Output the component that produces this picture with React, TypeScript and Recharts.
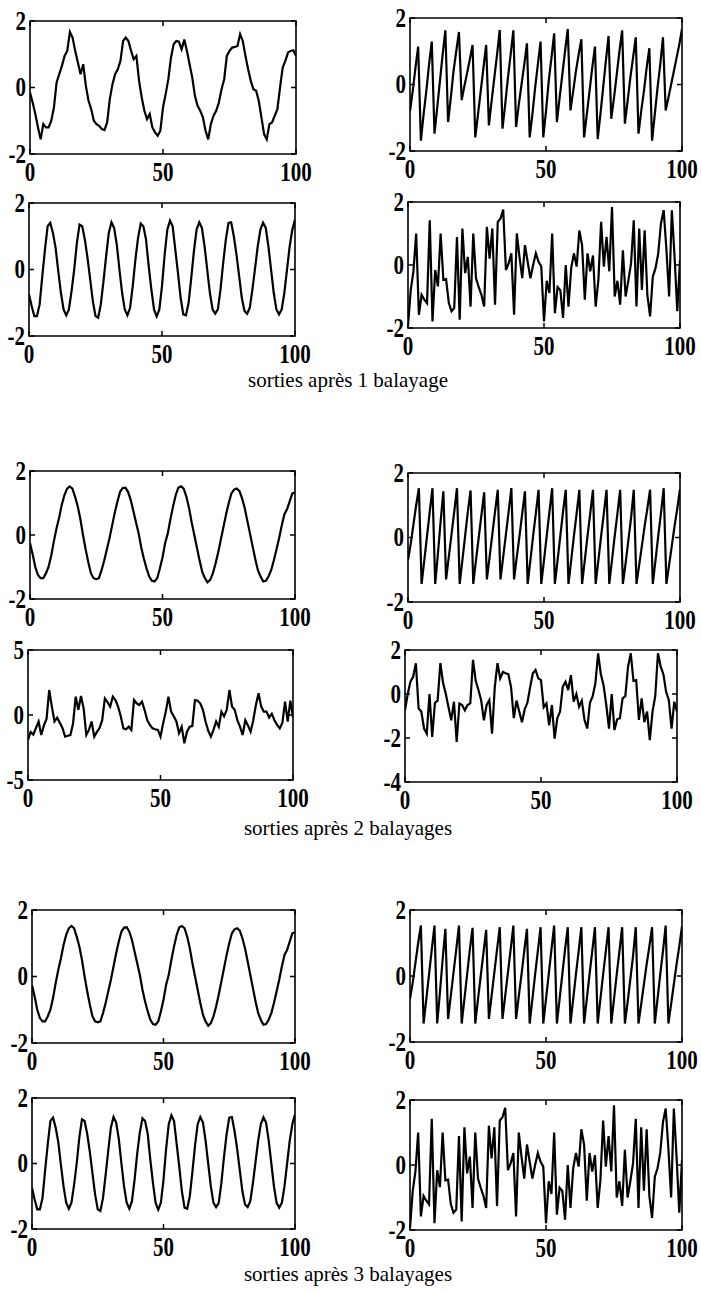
import { LineChart, Line, XAxis, YAxis, ReferenceArea } from "recharts";

// abscissa ticks shared by every panel
const xTicks = [0, 50, 100];
const yTicksUnit = [-2, 0, 2];
const yTicksFive = [-5, 0, 5];
const yTicksFour = [-4, -2, 0, 2];

const captions = [
  "sorties après 1 balayage",
  "sorties après 2 balayages",
  "sorties après 3 balayages",
];

// sweep 1
const sweep1TopLeft = [
  -0.15, -0.45, -0.8, -1.2, -1.56, -1.1, -1.2, -1.2, -1.0, -0.6,
  0.15, 0.4, 0.65, 0.95, 1.1, 1.67, 1.5, 1.1, 0.75, 0.4,
  0.7, 0.05, -0.4, -0.65, -1.0, -1.1, -1.15, -1.25, -1.28, -1.05,
  -0.35, 0.1, 0.4, 0.55, 0.8, 1.4, 1.5, 1.4, 1.1, 0.85,
  0.95, 0.2, -0.3, -0.7, -0.95, -0.8, -1.2, -1.35, -1.45, -1.3,
  -0.6, -0.2, 0.25, 0.9, 1.3, 1.4, 1.38, 1.15, 1.44, 1.1,
  0.7, 0.3, -0.25, -0.55, -0.7, -0.9, -1.3, -1.56, -1.1, -0.85,
  -0.7, -0.45, -0.05, 0.25, 0.95, 1.1, 1.2, 1.22, 1.25, 1.6,
  1.4, 0.95, 0.55, 0.2, -0.05, -0.1, -0.4, -0.9, -1.4, -1.56,
  -1.1, -1.05, -0.85, -0.65, 0.0, 0.6, 0.8, 1.05, 1.1, 1.12,
  0.95,
];
const sweep1TopRight = [
  -0.8, -0.2, 0.5, 1.14, -1.69, -0.9, -0.2, 0.6, 1.29, -1.48,
  -0.7, 0.1, 0.9, 1.63, -1.13, -0.4, 0.4, 1.0, 1.58, -0.47,
  -0.05, 0.35, 0.75, 1.19, -1.59, -0.9, -0.2, 0.5, 1.19, -1.23,
  -0.5, 0.2, 0.9, 1.64, -1.33, -0.6, 0.2, 0.9, 1.63, -1.28,
  -0.6, 0.0, 0.6, 1.24, -1.59, -0.9, -0.1, 0.6, 1.29, -1.59,
  -0.8, 0.1, 0.8, 1.54, -1.13, -0.4, 0.3, 1.0, 1.67, -0.78,
  -0.2, 0.4, 0.9, 1.36, -1.59, -0.9, -0.2, 0.5, 1.14, -1.64,
  -0.9, -0.1, 0.7, 1.46, -1.03, -0.4, 0.3, 1.0, 1.63, -1.18,
  -0.5, 0.2, 0.8, 1.42, -1.48, -0.8, -0.2, 0.5, 1.09, -1.69,
  -0.9, -0.1, 0.6, 1.42, -0.78, -0.4, 0.0, 0.4, 0.8, 1.2,
  1.67,
];
const sweep1BottomLeft = [
  -0.75, -1.1, -1.4, -1.4, -1.05, -0.2, 0.6, 1.3, 1.4, 1.1,
  0.65, -0.05, -0.7, -1.2, -1.38, -1.2, -0.65, 0.0, 0.8, 1.35,
  1.3, 0.9, 0.35, -0.3, -0.95, -1.4, -1.45, -1.05, -0.35, 0.4,
  1.1, 1.42, 1.25, 0.75, 0.0, -0.7, -1.2, -1.38, -1.15, -0.5,
  0.3, 0.95, 1.38, 1.3, 0.9, 0.1, -0.6, -1.2, -1.41, -1.2,
  -0.5, 0.45, 1.2, 1.47, 1.3, 0.6, -0.1, -0.85, -1.35, -1.38,
  -1.0, -0.25, 0.55, 1.2, 1.42, 1.25, 0.7, 0.0, -0.7, -1.2,
  -1.33, -1.2, -0.6, 0.2, 0.9, 1.4, 1.42, 1.0, 0.45, -0.2,
  -0.85, -1.25, -1.33, -1.15, -0.6, 0.05, 0.7, 1.2, 1.41, 1.25,
  0.7, 0.0, -0.7, -1.2, -1.35, -1.2, -0.7, 0.0, 0.7, 1.2,
  1.5,
];
const sweep1BottomRight = [
  -1.94, -0.8, -0.2, 1.0, -1.58, -0.95, -1.1, -1.21, 1.42, -1.79,
  -0.16, -0.68, 1.0, -0.47, -0.45, -1.2, -1.47, -1.37, 0.89, -1.74,
  1.16, -0.26, 0.26, -1.32, 1.0, -0.42, -0.7, -0.95, -1.32, 1.21,
  0.2, 1.16, -1.26, 1.37, 1.47, 1.76, -0.16, 0.05, 0.37, -1.58,
  1.0, 0.25, -0.42, 0.63, 0.1, -0.42, 0.0, 0.37, 0.1, -0.05,
  -1.79, -0.5, -0.89, 1.0, -1.53, -0.7, -0.8, -1.68, 0.0, -1.32,
  -0.1, 0.37, -0.05, 1.1, 0.63, -1.1, 0.37, -0.2, 0.3, -1.32,
  -0.47, 1.37, -0.05, 0.89, -0.2, 1.84, -1.0, -0.5, -1.26, 0.47,
  -1.0, -0.5, 0.05, 1.42, -1.32, 1.16, -0.79, 1.1, -0.95, -1.63,
  -0.37, -0.1, 0.37, 1.32, 1.74, 0.5, -1.0, 1.74, 0.26, -1.47,
  0.16,
];

// sweep 2
const sweep2TopLeft = [
  -0.26, -0.6, -1.0, -1.25, -1.35, -1.35, -1.2, -1.0, -0.65, -0.2,
  0.2, 0.55, 0.95, 1.25, 1.45, 1.52, 1.45, 1.2, 0.9, 0.5,
  0.0, -0.45, -0.85, -1.2, -1.35, -1.38, -1.35, -1.1, -0.8, -0.45,
  -0.1, 0.3, 0.7, 1.05, 1.35, 1.47, 1.48, 1.35, 1.1, 0.75,
  0.4, 0.05, -0.4, -0.75, -1.05, -1.3, -1.43, -1.45, -1.35, -1.05,
  -0.7, -0.25, 0.05, 0.5, 0.9, 1.25, 1.48, 1.52, 1.45, 1.2,
  0.85, 0.4, 0.0, -0.4, -0.8, -1.15, -1.35, -1.48, -1.4, -1.2,
  -0.9, -0.55, -0.15, 0.25, 0.65, 1.0, 1.3, 1.42, 1.45, 1.38,
  1.15, 0.85, 0.45, 0.05, -0.35, -0.75, -1.1, -1.3, -1.45, -1.43,
  -1.3, -1.1, -0.8, -0.45, -0.1, 0.3, 0.65, 0.8, 1.05, 1.3,
  1.33,
];
const sweep2TopRight = [
  -0.7, -0.2, 0.4, 1.0, 1.53, -1.44, -0.7, 0.05, 0.8, 1.53,
  -1.44, -0.5, 0.5, 1.43, -1.3, -0.6, 0.1, 0.8, 1.53, -1.44,
  -0.7, 0.05, 0.8, 1.46, -1.44, -0.7, 0.0, 0.7, 1.4, -1.3,
  -0.6, 0.1, 0.8, 1.48, -1.3, -0.6, 0.1, 0.8, 1.53, -1.3,
  -0.6, 0.05, 0.75, 1.43, -1.44, -0.7, 0.05, 0.75, 1.48, -1.44,
  -0.7, 0.05, 0.8, 1.53, -1.44, -0.7, 0.05, 0.8, 1.48, -1.44,
  -0.7, 0.05, 0.75, 1.48, -1.44, -0.7, 0.05, 0.75, 1.48, -1.44,
  -0.7, 0.05, 0.75, 1.48, -1.44, -0.7, 0.05, 0.75, 1.48, -1.44,
  -0.8, -0.1, 0.6, 1.48, -1.44, -0.85, -0.25, 0.35, 0.9, 1.48,
  -1.44, -0.7, 0.05, 0.75, 1.53, -1.44, -0.85, -0.25, 0.35, 0.9,
  1.5,
];
const sweep2BottomLeft = [
  -1.92, -1.3, -1.5, -1.0, -0.5, -1.54, -0.8, -0.3, 1.92, 0.64,
  -0.5, -0.2, -0.6, -1.0, -1.67, -1.6, -1.55, -0.65, 1.41, 0.4,
  1.46, 0.5, -1.54, -1.15, -0.5, -1.67, -1.3, -1.0, -0.4, 1.28,
  1.0, 0.64, 1.41, 1.15, 0.64, -0.1, -1.03, -1.1, -0.9, -1.15,
  1.15, 0.9, 0.77, 1.03, 0.38, -0.4, -0.77, -1.03, -1.1, -1.15,
  -1.67, -0.64, 0.26, 1.41, 0.26, -0.1, -0.5, -1.4, -0.9, -2.18,
  -1.28, -0.9, -0.85, 1.15, 1.1, 0.9, 0.4, -0.5, -1.2, -1.67,
  -1.15, -0.5, -0.9, 0.26, -0.1, 0.4, 1.92, 0.64, 0.4, -0.4,
  -0.9, -1.54, -0.4, -0.8, -1.28, -0.4, 0.77, 1.67, 0.64, 0.26,
  0.26, -0.2, 0.1, -0.4, -0.77, -1.03, -0.6, 1.03, -0.5, 1.1,
  -0.2,
];
const sweep2BottomRight = [
  -0.74, 0.0, 0.56, 0.78, 1.4, -0.66, -0.8, -1.57, -1.8, 0.0,
  -1.95, -0.4, -0.3, 1.4, 0.5, 0.0, -0.6, -1.2, -0.35, -2.18,
  -0.43, -0.5, -0.74, -0.5, -0.43, 1.55, 0.6, 0.18, -0.28, -1.2,
  -0.5, -0.28, -1.8, 0.3, 1.4, 0.71, 1.0, 0.94, 0.9, 0.3,
  -1.1, -0.3, -0.8, -1.28, -0.7, -0.4, 0.3, 0.94, 1.09, 0.71,
  0.63, -0.6, -0.43, -1.42, -0.5, -2.03, -1.1, -0.8, 0.33, 0.56,
  0.18, 0.86, -0.35, 0.0, -0.58, -0.3, -1.18, -1.57, -0.4, -0.1,
  0.5, 1.85, 0.9, 0.4, -0.5, -1.57, 0.0, -1.64, -1.15, -1.1,
  -0.2, -0.1, 1.24, 1.85, 0.6, 0.63, -1.18, -0.2, -1.28, -0.8,
  -2.1, -0.8, -0.1, 1.85, 1.24, 0.9, 0.1, -0.28, -1.57, -0.35,
  -0.8,
];

// sweep 3 reproduces the same four outputs
const sweep3TopLeft = sweep2TopLeft;
const sweep3TopRight = sweep2TopRight;
const sweep3BottomLeft = sweep1BottomLeft;
const sweep3BottomRight = sweep1BottomRight;

const tickFont = { fontFamily: "'Liberation Serif', 'DejaVu Serif', serif", fontWeight: 700, fontSize: 21, fill: "#000" };

const ML = 40, MR = 24, MT = 14, MB = 34;

type Box = { l: number; t: number; r: number; b: number };

function Panel({ box, values, domain, yTicks }: { box: Box; values: number[]; domain: [number, number]; yTicks: number[] }) {
  const pw = box.r - box.l;
  const ph = box.b - box.t;
  const data = values.map((y, i) => ({ x: i, y }));

  const xTick = (p: any) => {
    const x = p.x;
    const yb = MT + ph;
    return (
      <g>
        <line x1={x} x2={x} y1={yb} y2={yb - 5} stroke="#000" strokeWidth={1.5} />
        <line x1={x} x2={x} y1={MT} y2={MT + 5} stroke="#000" strokeWidth={1.5} />
        <text transform={`translate(${x},${yb + 18}) scale(1,1.25)`} textAnchor="middle" dominantBaseline="central" style={tickFont}>
          {p.payload.value}
        </text>
      </g>
    );
  };
  const yTick = (p: any) => {
    const y = p.y;
    return (
      <g>
        <line x1={ML} x2={ML + 5} y1={y} y2={y} stroke="#000" strokeWidth={1.5} />
        <line x1={ML + pw} x2={ML + pw - 5} y1={y} y2={y} stroke="#000" strokeWidth={1.5} />
        <text transform={`translate(${ML - 4},${y}) scale(1,1.25)`} textAnchor="end" dominantBaseline="central" style={tickFont}>
          {p.payload.value}
        </text>
      </g>
    );
  };

  return (
    <div style={{ position: "absolute", left: box.l - ML, top: box.t - MT }}>
      <LineChart width={pw + ML + MR} height={ph + MT + MB} data={data} margin={{ top: MT, right: MR, bottom: 0, left: 0 }}>
        <XAxis dataKey="x" type="number" domain={[0, 100]} ticks={xTicks} interval={0} height={MB} axisLine={false} tickLine={false} tick={xTick} allowDataOverflow />
        <YAxis type="number" domain={domain} ticks={yTicks} interval={0} width={ML} axisLine={false} tickLine={false} tick={yTick} allowDataOverflow />
        <ReferenceArea x1={0} x2={100} y1={domain[0]} y2={domain[1]} fill="none" stroke="#000" strokeWidth={1.6} />
        <Line dataKey="y" type="linear" stroke="#000" strokeWidth={2.2} dot={false} isAnimationActive={false} />
      </LineChart>
    </div>
  );
}

const panels: { box: Box; values: number[]; domain: [number, number]; yTicks: number[] }[] = [
  { box: { l: 30, t: 21, r: 296, b: 154 }, values: sweep1TopLeft, domain: [-2, 2], yTicks: yTicksUnit },
  { box: { l: 410, t: 18, r: 682, b: 151 }, values: sweep1TopRight, domain: [-2, 2], yTicks: yTicksUnit },
  { box: { l: 29, t: 203, r: 295, b: 336 }, values: sweep1BottomLeft, domain: [-2, 2], yTicks: yTicksUnit },
  { box: { l: 408, t: 202, r: 680, b: 328 }, values: sweep1BottomRight, domain: [-2, 2], yTicks: yTicksUnit },
  { box: { l: 30, t: 471, r: 295, b: 599 }, values: sweep2TopLeft, domain: [-2, 2], yTicks: yTicksUnit },
  { box: { l: 408, t: 473, r: 680, b: 602 }, values: sweep2TopRight, domain: [-2, 2], yTicks: yTicksUnit },
  { box: { l: 28, t: 650, r: 293, b: 780 }, values: sweep2BottomLeft, domain: [-5, 5], yTicks: yTicksFive },
  { box: { l: 405, t: 650, r: 677, b: 782 }, values: sweep2BottomRight, domain: [-4, 2], yTicks: yTicksFour },
  { box: { l: 32, t: 910, r: 295, b: 1043 }, values: sweep3TopLeft, domain: [-2, 2], yTicks: yTicksUnit },
  { box: { l: 410, t: 910, r: 682, b: 1042 }, values: sweep3TopRight, domain: [-2, 2], yTicks: yTicksUnit },
  { box: { l: 32, t: 1098, r: 295, b: 1229 }, values: sweep3BottomLeft, domain: [-2, 2], yTicks: yTicksUnit },
  { box: { l: 410, t: 1100, r: 682, b: 1230 }, values: sweep3BottomRight, domain: [-2, 2], yTicks: yTicksUnit },
];

const captionY = [380, 828, 1274];

export default function App() {
  return (
    <div style={{ position: "absolute", left: 0, top: 0, width: 701, height: 1291, background: "#fff", overflow: "hidden" }}>
      {panels.map((p, i) => (
        <Panel key={i} {...p} />
      ))}
      {captions.map((c, i) => (
        <div
          key={c}
          style={{
            position: "absolute", left: 148, width: 400, top: captionY[i] - 13, height: 26, lineHeight: "26px",
            textAlign: "center", fontFamily: "'Liberation Serif', 'DejaVu Serif', serif", fontSize: 21, color: "#000",
          }}
        >
          {c}
        </div>
      ))}
    </div>
  );
}
